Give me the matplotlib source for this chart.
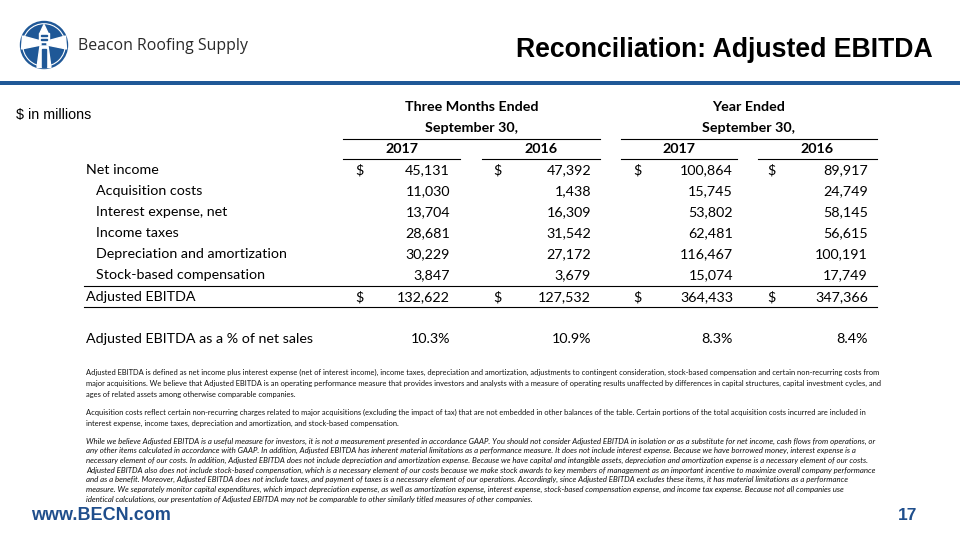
import matplotlib
matplotlib.use("Agg")
import matplotlib.pyplot as plt
from matplotlib.patches import Circle, Polygon, Rectangle

# ---------------- data ----------------
row_labels = ["Net income", "Acquisition costs", "Interest expense, net", "Income taxes",
              "Depreciation and amortization", "Stock-based compensation"]
indent = [False, True, True, True, True, True]
q3_2017 = [45131, 11030, 13704, 28681, 30229, 3847]
q3_2016 = [47392, 1438, 16309, 31542, 27172, 3679]
fy_2017 = [100864, 15745, 53802, 62481, 116467, 15074]
fy_2016 = [89917, 24749, 58145, 56615, 100191, 17749]
adj_ebitda = [132622, 127532, 364433, 347366]
adj_pct = [10.3, 10.9, 8.3, 8.4]
group_labels = [("Three Months Ended", "September 30,"), ("Year Ended", "September 30,")]
year_labels = ["2017", "2016", "2017", "2016"]

title = "Reconciliation: Adjusted EBITDA"
company = "Beacon Roofing Supply"
units = "$ in millions"
footer_url = "www.BECN.com"
page_no = "17"

para1 = [
    "Adjusted EBITDA is defined as net income plus interest expense (net of interest income), income taxes, depreciation and amortization, adjustments to contingent consideration, stock-based compensation and certain non-recurring costs from",
    "major acquisitions. We believe that Adjusted EBITDA is an operating performance measure that provides investors and analysts with a measure of operating results unaffected by differences in capital structures, capital investment cycles, and",
    "ages of related assets among otherwise comparable companies.",
]
para2 = [
    "Acquisition costs reflect certain non-recurring charges related to major acquisitions (excluding the impact of tax) that are not embedded in other balances of the table. Certain portions of the total acquisition costs incurred are included in",
    "interest expense, income taxes, depreciation and amortization, and stock-based compensation.",
]
para3 = [
    "While we believe Adjusted EBITDA is a useful measure for investors, it is not a measurement presented in accordance GAAP. You should not consider Adjusted EBITDA in isolation or as a substitute for net income, cash flows from operations, or",
    "any other items calculated in accordance with GAAP. In addition, Adjusted EBITDA has inherent material limitations as a performance measure. It does not include interest expense. Because we have borrowed money, interest expense is a",
    "necessary element of our costs. In addition, Adjusted EBITDA does not include depreciation and amortization expense. Because we have capital and intangible assets, depreciation and amortization expense is a necessary element of our costs.",
    "Adjusted EBITDA also does not include stock-based compensation, which is a necessary element of our costs because we make stock awards to key members of management as an important incentive to maximize overall company performance",
    "and as a benefit. Moreover, Adjusted EBITDA does not include taxes, and payment of taxes is a necessary element of our operations. Accordingly, since Adjusted EBITDA excludes these items, it has material limitations as a performance",
    "measure. We separately monitor capital expenditures, which impact depreciation expense, as well as amortization expense, interest expense, stock-based compensation expense, and income tax expense. Because not all companies use",
    "identical calculations, our presentation of Adjusted EBITDA may not be comparable to other similarly titled measures of other companies.",
]

# ---------------- styles / layout ----------------
BLUE = "#1f5897"
FOOT_BLUE = "#1f4e8c"
TFONT = "Lato"
TSIZE = 10.3

fig = plt.figure(figsize=(9.6, 5.4), dpi=100)
ax = fig.add_axes([0, 0, 1, 1])
ax.set_xlim(0, 960)
ax.set_ylim(540, 0)
ax.axis("off")

# logo
cx, cy, r = 44, 45, 23.5
ax.add_patch(Circle((cx, cy), r, color=BLUE, zorder=2))
ax.add_patch(Circle((cx, cy), r - 2.2, facecolor="none", edgecolor="white", lw=0.8, zorder=3))
# beams
ax.add_patch(Polygon([(cx - 3, cy - 4), (cx - r + 2, cy - 9), (cx - r + 1, cy + 4), (cx - 3, cy)], color="white", zorder=3))
ax.add_patch(Polygon([(cx + 3, cy - 4), (cx + r - 2, cy - 9), (cx + r - 1, cy + 4), (cx + 3, cy)], color="white", zorder=3))
# tower
ax.add_patch(Polygon([(cx - 4, cy + 1), (cx + 4, cy + 1), (cx + 7, cy + r - 1), (cx - 7, cy + r - 1)], color="white", zorder=3))
ax.add_patch(Rectangle((cx - 2, cy + 4), 4, r - 6, color=BLUE, zorder=4))
# lantern
ax.add_patch(Polygon([(cx, cy - r + 3), (cx + 4, cy - 12), (cx - 4, cy - 12)], color="white", zorder=3))
ax.add_patch(Rectangle((cx - 5, cy - 12), 10, 9, color="white", zorder=3))
ax.add_patch(Rectangle((cx - 3, cy - 10), 6, 1.2, color=BLUE, zorder=4))
ax.add_patch(Rectangle((cx - 3, cy - 6.5), 6, 1.2, color=BLUE, zorder=4))

ax.text(78, 46, company, fontsize=11.4, family="Open Sans", color="#2a2a2a", va="center", ha="left")
ax.text(933, 50, title, fontsize=19.2, family="Liberation Sans", weight="bold", color="black",
        va="center", ha="right")
ax.add_patch(Rectangle((0, 80.5), 960, 4, color=BLUE, lw=0, zorder=2))

ax.text(16, 115, units, fontsize=10.3, family="Liberation Sans", va="center", ha="left")

# ---------------- table ----------------
group_spans = [(343, 600), (621, 877)]
year_spans = [(343, 460), (482, 600), (621, 737), (758, 877)]
val_right = [450, 591, 733, 868]
dollar_x = [355, 493, 633, 767]
row_y = [170, 191, 212, 233, 254, 275]
adj_y = 297
pct_y = 339
lw = 0.8

for (x0, x1), (l1, l2) in zip(group_spans, group_labels):
    xc = (x0 + x1) / 2
    ax.text(xc, 107, l1, fontsize=TSIZE, family=TFONT, weight="bold", ha="center", va="center")
    ax.text(xc, 128, l2, fontsize=TSIZE, family=TFONT, weight="bold", ha="center", va="center")
    ax.plot([x0, x1], [138.5, 138.5], color="black", lw=lw)
for (x0, x1), yl in zip(year_spans, year_labels):
    ax.text((x0 + x1) / 2, 149, yl, fontsize=TSIZE, family=TFONT, weight="bold", ha="center", va="center")
    ax.plot([x0, x1], [159, 159], color="black", lw=lw)

cols = [q3_2017, q3_2016, fy_2017, fy_2016]
for i, (lab, ind, y) in enumerate(zip(row_labels, indent, row_y)):
    ax.text(96 if ind else 86, y, lab, fontsize=TSIZE, family=TFONT, ha="left", va="center")
    for c, col in enumerate(cols):
        ax.text(val_right[c], y, f"{col[i]:,}", fontsize=TSIZE, family=TFONT, ha="right", va="center")
        if i == 0:
            ax.text(dollar_x[c], y, "$", fontsize=TSIZE, family=TFONT, ha="left", va="center")

ax.plot([84, 877], [286, 286], color="black", lw=lw)
ax.plot([84, 877], [307, 307], color="black", lw=lw)
ax.text(86, adj_y, "Adjusted EBITDA", fontsize=TSIZE, family=TFONT, ha="left", va="center")
for c, v in enumerate(adj_ebitda):
    ax.text(val_right[c], adj_y, f"{v:,}", fontsize=TSIZE, family=TFONT, ha="right", va="center")
    ax.text(dollar_x[c], adj_y, "$", fontsize=TSIZE, family=TFONT, ha="left", va="center")

ax.text(86, pct_y, "Adjusted EBITDA as a % of net sales", fontsize=TSIZE, family=TFONT, ha="left", va="center")
for c, v in enumerate(adj_pct):
    ax.text(val_right[c], pct_y, f"{v:.1f}%", fontsize=TSIZE, family=TFONT, ha="right", va="center")

# ---------------- footnotes ----------------
renderer = fig.canvas.get_renderer()


def fit_size(s, target_px, style):
    t = ax.text(0, 0, s, fontsize=10, family=TFONT, style=style)
    w = t.get_window_extent(renderer=renderer).width
    t.remove()
    return 10 * target_px / w


fs_n = fit_size(para1[0], 790, "normal")
fs_i = fit_size(para3[0], 786, "italic")

for k, line in enumerate(para1):
    ax.text(86, 372 + 11 * k, line, fontsize=fs_n, family=TFONT, ha="left", va="center", color="#111111")
for k, line in enumerate(para2):
    ax.text(86, 412.5 + 11 * k, line, fontsize=fs_n, family=TFONT, ha="left", va="center", color="#111111")
for k, line in enumerate(para3):
    ax.text(86, 441 + 9.7 * k, line, fontsize=fs_i, family=TFONT, style="italic", ha="left", va="center",
            color="#111111")

# ---------------- footer ----------------
ax.text(31, 515, footer_url, fontsize=13, family="Liberation Sans", weight="bold", color=FOOT_BLUE,
        ha="left", va="center")
ax.text(917, 515, page_no, fontsize=12.5, family="Liberation Sans", weight="bold", color=FOOT_BLUE,
        ha="right", va="center")

fig.savefig("out.png", dpi=100)
